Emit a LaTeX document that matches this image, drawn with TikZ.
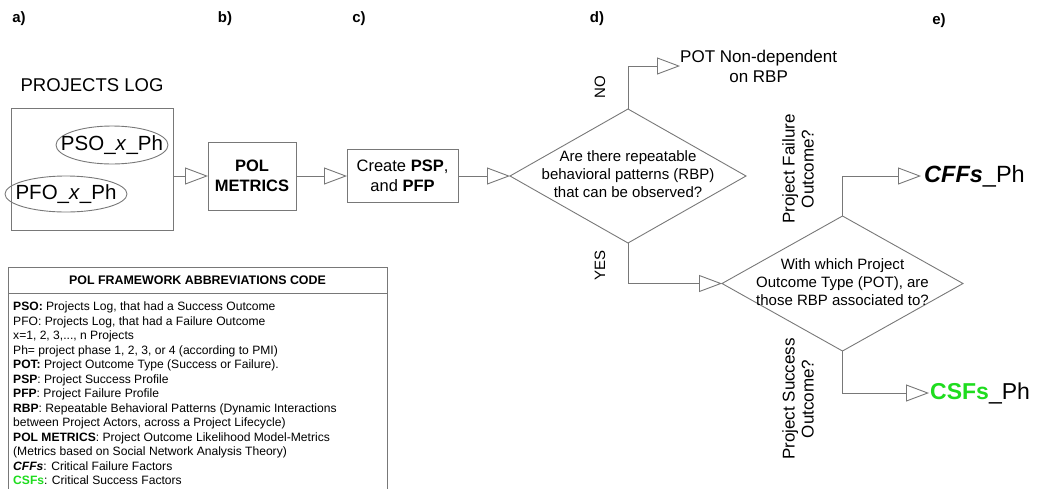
\documentclass[tikz,border=0pt]{standalone}
\usepackage{fontspec}
\setmainfont{Liberation Sans}
\usetikzlibrary{shapes.geometric, arrows.meta}

\definecolor{linegray}{RGB}{120,120,120}
\definecolor{csfgreen}{RGB}{30,220,30}
\newcommand{\fs}[2]{\fontsize{#1}{#2}\selectfont}

\begin{document}
\begin{tikzpicture}[x=1pt, y=-1pt,
  box/.style={draw=linegray, line width=0.9pt, rectangle, inner sep=0pt, outer sep=0pt},
  decision/.style={draw=linegray, line width=0.9pt, diamond, inner sep=0pt, outer sep=0pt},
  bubble/.style={draw=linegray, line width=0.9pt, ellipse, inner sep=0pt, outer sep=0pt},
  flow/.style={draw=linegray, line width=0.9pt, -{Triangle[open, length=23pt, width=17pt]}},
  partlabel/.style={font=\fs{15}{18}\bfseries}]
\useasboundingbox (0,0) rectangle (1039,488);
% column labels
\node[partlabel] (la) at (19,19) {a)};
\node[partlabel] (lb) at (225,19) {b)};
\node[partlabel] (lc) at (359,19) {c)};
\node[partlabel] (ld) at (597,19) {d)};
\node[partlabel] (le) at (939,21) {e)};
% a) projects log
\node[font=\fs{18.5}{22}] (logtitle) at (92,85) {PROJECTS LOG};
\node[box, minimum width=162, minimum height=122] (logbox) at (92,169) {};
\node[bubble, minimum width=112, minimum height=38, font=\fs{20.5}{24}] (pso) at (112,145) {\makebox[0pt]{PSO\_\textit{x}\_Ph}};
\node[bubble, minimum width=122, minimum height=36, font=\fs{20.5}{24}] (pfo) at (66,194) {\makebox[0pt]{PFO\_\textit{x}\_Ph}};
% b) and c)
\node[box, minimum width=88, minimum height=68, align=center, font=\fs{16.5}{20}\bfseries] (polm) at (252,176) {POL\\METRICS};
\node[box, minimum width=111, minimum height=53, align=center, font=\fs{16.5}{20}] (create) at (402.5,176) {Create \textbf{PSP},\\and \textbf{PFP}};
% d) first decision
\node[decision, minimum width=236, minimum height=134, font=\fs{15}{18}] (rbp) at (628,176) {\makebox[0pt]{\begin{tabular}{@{}c@{}}Are there repeatable\\behavioral patterns (RBP)\\that can be observed?\end{tabular}}};
\node[align=center, anchor=west, inner sep=0pt, font=\fs{17}{20}] (nondep) at (680,66) {POT Non-dependent\\on RBP};
\node[rotate=90, font=\fs{15}{18}] (nolab) at (600,87) {NO};
\node[rotate=90, font=\fs{15}{18}] (yeslab) at (600,265) {YES};
% e) second decision
\node[decision, minimum width=241, minimum height=135, font=\fs{15}{18}] (pot) at (842.5,283.5) {\makebox[0pt]{\begin{tabular}{@{}c@{}}With which Project\\Outcome Type (POT), are\\those RBP associated to?\end{tabular}}};
\node[anchor=west, inner sep=3pt, font=\fs{23.5}{27}] (cffs) at (921,176) {\textbf{\textit{CFFs}}\_Ph};
\node[anchor=west, inner sep=1pt, font=\fs{23}{27}] (csfs) at (929,393) {\textcolor{csfgreen}{\textbf{CSFs}}\_Ph};
\node[rotate=90, align=center, font=\fs{17}{19}] (faillab) at (798,169) {Project Failure\\Outcome?};
\node[rotate=90, align=center, font=\fs{17}{19}] (succlab) at (798,399) {Project Success\\Outcome?};
% connectors
\draw[flow] (logbox.east |- polm.west) -- (polm.west);
\draw[flow] (polm.east) -- (create.west);
\draw[flow] (create.east) -- (rbp.west);
\draw[flow] (rbp.north) |- (nondep.west);
\draw[flow] (rbp.south) |- (pot.west);
\draw[flow] (pot.north) |- (cffs.west);
\draw[flow] (pot.south) |- (csfs.west);
% abbreviations legend
\node[box, minimum width=379, minimum height=26, font=\fs{12.4}{14}\bfseries] (abbrhead) at (197.5,280) {POL FRAMEWORK ABBREVIATIONS CODE};
\node[anchor=north west, align=left, inner sep=0pt, font=\fs{12.1}{14.5}] (abbrbody) at (13,302) {\textbf{PSO:} Projects Log, that had a Success Outcome\\
PFO: Projects Log, that had a Failure Outcome\\
x=1, 2, 3,..., n Projects\\
Ph= project phase 1, 2, 3, or 4 (according to PMI)\\
\textbf{POT:} Project Outcome Type (Success or Failure).\\
\textbf{PSP}: Project Success Profile\\
\textbf{PFP}: Project Failure Profile\\
\textbf{RBP}: Repeatable Behavioral Patterns (Dynamic Interactions\\
between Project Actors, across a Project Lifecycle)\\
\textbf{POL METRICS}: Project Outcome Likelihood Model-Metrics\\
(Metrics based on Social Network Analysis Theory)\\
\textbf{\textit{CFFs}}: Critical Failure Factors\\
\textcolor{csfgreen}{\textbf{CSFs}}: Critical Success Factors};
\draw[draw=linegray, line width=0.9pt] (abbrhead.south west) -- ++(0,210) (abbrhead.south east) -- ++(0,210);
\end{tikzpicture}
\end{document}
